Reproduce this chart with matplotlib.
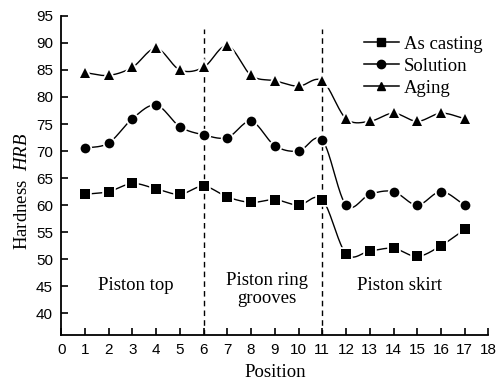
import numpy as np
import matplotlib
matplotlib.use('Agg')
import matplotlib.pyplot as plt
from matplotlib.lines import Line2D

position = [1, 2, 3, 4, 5, 6, 7, 8, 9, 10, 11, 12, 13, 14, 15, 16, 17]
as_casting = [62, 62.5, 64, 63, 62, 63.5, 61.5, 60.5, 61, 60, 61, 51, 51.5, 52, 50.5, 52.5, 55.5]
solution = [70.5, 71.5, 76, 78.5, 74.5, 73, 72.5, 75.5, 71, 70, 72, 60, 62, 62.5, 60, 62.5, 60]
aging = [84.5, 84, 85.5, 89, 85, 85.5, 89.5, 84, 83, 82, 83, 76, 75.5, 77, 75.5, 77, 76]

region_bounds = [6, 11]
region_names = ['Piston top', 'Piston ring\ngrooves', 'Piston skirt']
region_pos = [(3.15, 45.2), (8.65, 44.4), (14.25, 45.2)]


def smooth(x, y, n=30):
    # catmull-rom curve through the points, only for drawing the line
    x = np.asarray(x, float)
    y = np.asarray(y, float)
    px = np.concatenate([[2 * x[0] - x[1]], x, [2 * x[-1] - x[-2]]])
    py = np.concatenate([[2 * y[0] - y[1]], y, [2 * y[-1] - y[-2]]])
    xs, ys = [], []
    t = np.linspace(0, 1, n, endpoint=False)
    for i in range(1, len(px) - 2):
        for p, out in ((px, xs), (py, ys)):
            p0, p1, p2, p3 = p[i - 1], p[i], p[i + 1], p[i + 2]
            out.extend(0.5 * ((2 * p1) + (-p0 + p2) * t
                              + (2 * p0 - 5 * p1 + 4 * p2 - p3) * t ** 2
                              + (-p0 + 3 * p1 - 3 * p2 + p3) * t ** 3))
    xs.append(x[-1])
    ys.append(y[-1])
    return np.array(xs), np.array(ys)


plt.rcParams['font.family'] = ['Liberation Sans', 'DejaVu Sans']
plt.rcParams['mathtext.fontset'] = 'custom'
plt.rcParams['mathtext.rm'] = 'Liberation Serif'
plt.rcParams['mathtext.it'] = 'Liberation Serif:italic'
serif = ['Liberation Serif', 'DejaVu Serif']

fig = plt.figure(figsize=(5.02, 3.88), dpi=100)
ax = fig.add_axes([0.122, 0.137, 0.851, 0.822])

series = [(as_casting, 's', 'As casting'), (solution, 'o', 'Solution'), (aging, '^', 'Aging')]
for vals, m, lab in series:
    sx, sy = smooth(position, vals)
    ax.plot(sx, sy, color='k', lw=1.0, zorder=2)
    ax.plot(position, vals, ls='none', marker=m, ms=7, color='k',
            markeredgecolor='white', markeredgewidth=2.6, zorder=3)
    ax.plot(position, vals, ls='none', marker=m, ms=7 if m != 's' else 6.5, color='k',
            markeredgewidth=0, zorder=4)

for b in region_bounds:
    ax.plot([b, b], [36, 92.6], color='k', lw=1, ls=(0, (4, 3)), zorder=1)

for name, (x, y) in zip(region_names, region_pos):
    ax.text(x, y, name, family=serif, fontsize=13.5, ha='center', va='center',
            linespacing=1.1)

handles = [Line2D([], [], color='k', lw=1.1, marker=m, ms=6, label=lab)
           for _, m, lab in series]
leg = ax.legend(handles=handles, loc='upper right', bbox_to_anchor=(1.017, 0.98),
                frameon=False, prop={'family': serif, 'size': 13.5},
                handlelength=1.9, handletextpad=0.25, labelspacing=0.26,
                borderpad=0.2)

ax.set_xlim(0, 18)
ax.set_ylim(36, 95)
ax.set_xticks(range(0, 19))
ax.set_yticks(range(40, 96, 5))
ax.spines['top'].set_visible(False)
ax.spines['right'].set_visible(False)
ax.spines['left'].set_linewidth(1.3)
ax.spines['bottom'].set_linewidth(1.3)
ax.tick_params(direction='in', length=5, width=1.2, labelsize=11, pad=6)

ax.set_xlabel('Position', family=serif, fontsize=13.5, labelpad=5)
ax.set_ylabel('Hardness  $\\mathit{HRB}$', family=serif, fontsize=13.5, labelpad=3)
ax.yaxis.set_label_coords(-0.07, 0.45)

fig.savefig('out.png', dpi=100)
